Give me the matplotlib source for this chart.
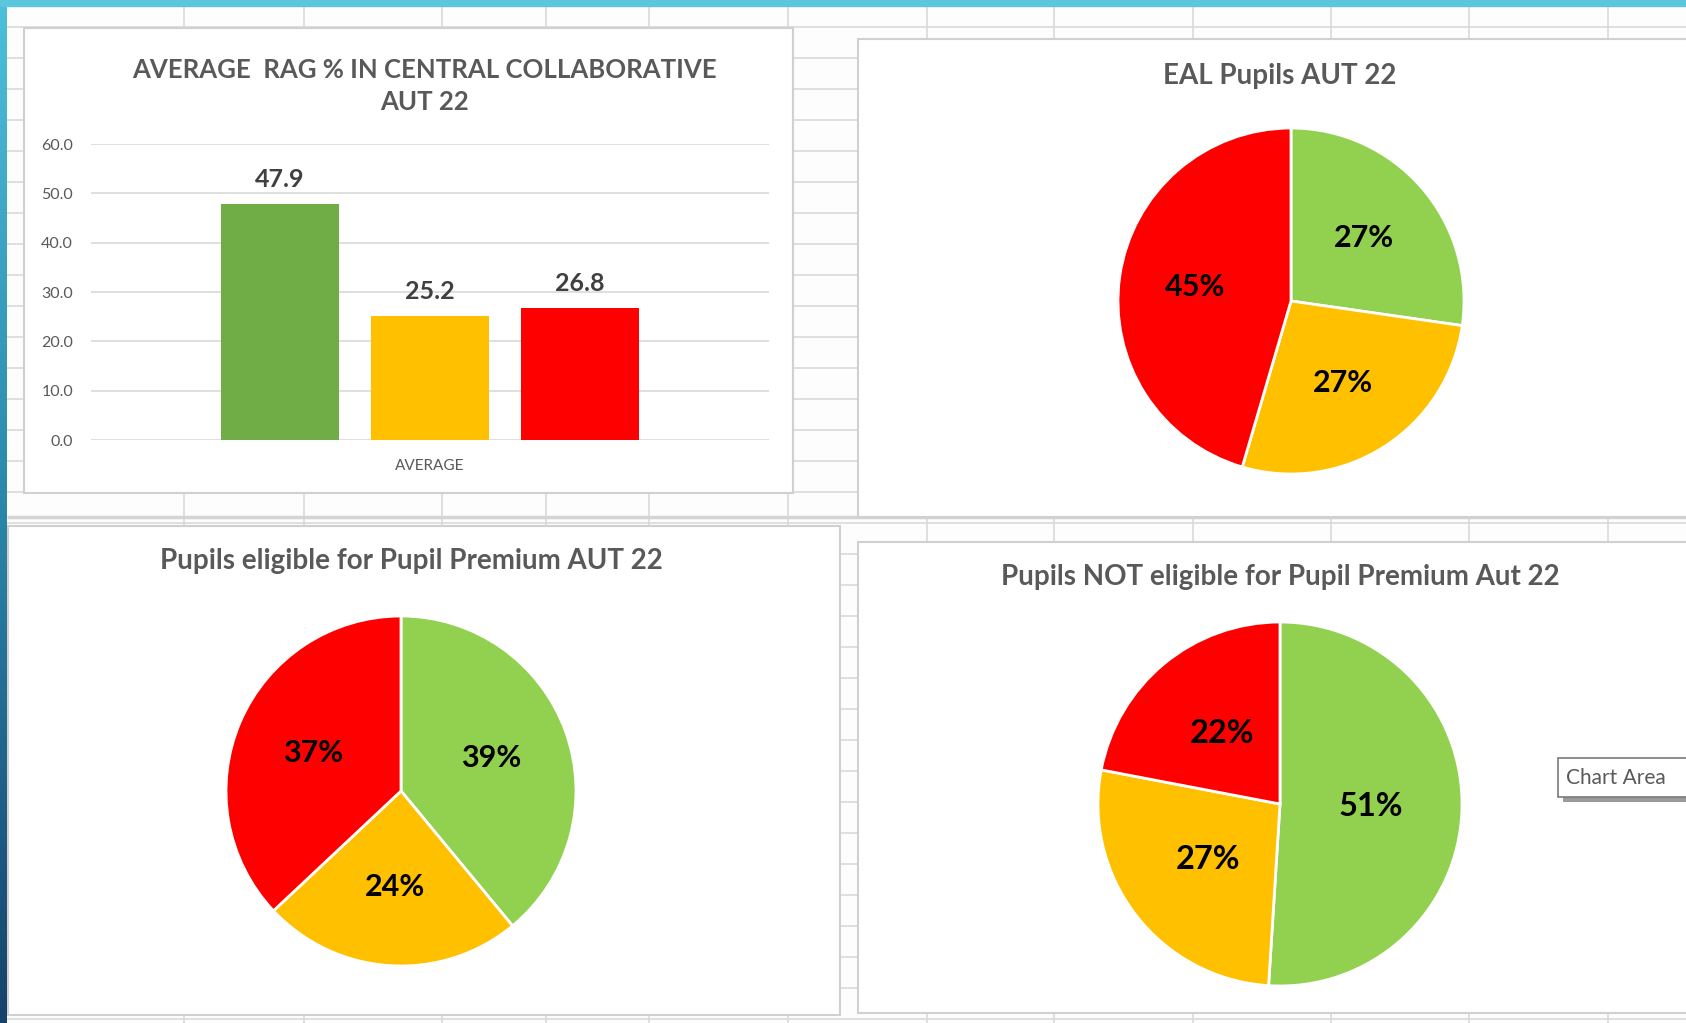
import numpy as np
import matplotlib
matplotlib.use("Agg")
import matplotlib.pyplot as plt
from matplotlib.patches import Rectangle

plt.rcParams['font.family'] = ['Lato', 'DejaVu Sans']

W, H = 1686, 1023

# ---- data ----
bar_title = "AVERAGE  RAG % IN CENTRAL COLLABORATIVE\nAUT 22"
bar_category = "AVERAGE"
bar_values = [47.9, 25.2, 26.8]          # green, amber, red
bar_colors = ["#70AD47", "#FFC000", "#FF0000"]
bar_yticks = [0, 10, 20, 30, 40, 50, 60]

pie_colors = ["#92D050", "#FFC000", "#FF0000"]   # green, amber, red
eal_title = "EAL Pupils AUT 22"
eal_values = [27, 27, 45]
pp_title = "Pupils eligible for Pupil Premium AUT 22"
pp_values = [39, 24, 37]
notpp_title = "Pupils NOT eligible for Pupil Premium Aut 22"
notpp_values = [51, 27, 22]

TXT = "#595959"
GRID = "#d9d9d9"

fig = plt.figure(figsize=(W / 100, H / 100), dpi=100)


def px_axes(x0, y0, x1, y1, z=2):
    # 像素坐标 -> figure 坐标
    return fig.add_axes([x0 / W, 1 - y1 / H, (x1 - x0) / W, (y1 - y0) / H], zorder=z)


# ---- 背景：表格网格 + 边框 ----
bg = fig.add_axes([0, 0, 1, 1], zorder=0)
bg.set_xlim(0, W)
bg.set_ylim(H, 0)
bg.axis("off")
bg.add_patch(Rectangle((0, 0), W, H, color="#fdfdfd", zorder=0))

rows = np.arange(27, H, 31)
cols = [184, 304, 442, 546, 649, 788, 927, 1054, 1193, 1331, 1469, 1608]
bg.hlines(rows, 7, W, color="#dadada", lw=1.2, zorder=1)
bg.vlines(cols, 0, H, color="#dadada", lw=1.2, zorder=1)
bg.hlines([517], 7, W, color="#d4d4d4", lw=2.5, zorder=1)

# 蓝色渐变边框
grad = np.linspace(0, 1, 256).reshape(-1, 1)
cmap = matplotlib.colors.LinearSegmentedColormap.from_list("b", ["#4cc0da", "#2a86a8", "#16426a"])
bg.imshow(grad, extent=(0, 7, H, 0), cmap=cmap, aspect="auto", zorder=3)
bg.add_patch(Rectangle((0, 0), W, 6, color="#5cc6dd", zorder=3))

panels = [(24, 28, 793, 493), (858, 39, 1700, 517), (8, 526, 840, 1015), (858, 542, 1700, 1013)]
for x0, y0, x1, y1 in panels:
    bg.add_patch(Rectangle((x0, y0), x1 - x0, y1 - y0, facecolor="white",
                           edgecolor="#d0d0d0", lw=1.5, zorder=2))

# ---- 柱状图 ----
ax = px_axes(91, 144, 769, 440)
ax.set_facecolor("none")
offs = [-0.221, 0, 0.221]
bars = ax.bar(offs, bar_values, width=0.174, color=bar_colors, zorder=3)
ax.bar_label(bars, labels=[f"{v:.1f}" for v in bar_values], padding=9,
             fontsize=18, fontweight="bold", color="#404040")
ax.set_xlim(-0.5, 0.5)
ax.set_ylim(0, 60)
ax.set_yticks(bar_yticks)
ax.set_yticklabels([f"{t:.1f}" for t in bar_yticks])
ax.set_xticks([0])
ax.set_xticklabels([bar_category])
ax.tick_params(axis="y", length=0, pad=13, labelsize=11.5, labelcolor=TXT)
ax.tick_params(axis="x", length=0, pad=14, labelsize=11, labelcolor=TXT)
ax.grid(axis="y", color=GRID, lw=1.2, zorder=0)
for s in ax.spines.values():
    s.set_visible(False)
bg.text(424, 86, bar_title, ha="center", va="center", fontsize=18.5,
        fontweight="bold", color=TXT, linespacing=1.35, zorder=4)


# ---- 饼图 ----
def draw_pie(cx, cy, r, values, title, tx, ty, ldist, fs):
    a = px_axes(cx - 1.25 * r, cy - 1.25 * r, cx + 1.25 * r, cy + 1.25 * r)
    wedges, texts = a.pie(values, colors=pie_colors, startangle=90, counterclock=False,
                          labels=[f"{v:.0f}%" for v in values], labeldistance=ldist,
                          wedgeprops=dict(edgecolor="white", linewidth=2))
    for t in texts:
        t.set_ha("center")
        t.set_va("center")
        t.set_fontsize(fs)
        t.set_fontweight("bold")
        t.set_color("black")
    bg.text(tx, ty, title, ha="center", va="center", fontsize=20,
            fontweight="bold", color=TXT, zorder=4)


draw_pie(1291, 301, 173, eal_values, eal_title, 1280, 76, 0.56, 22)
draw_pie(401, 791, 175, pp_values, pp_title, 411, 561, 0.55, 22)
draw_pie(1280, 804, 182, notpp_values, notpp_title, 1280, 577, 0.5, 23.5)

# ---- "Chart Area" 提示框 ----
bg.add_patch(Rectangle((1563, 763), 140, 39, facecolor="#9a9a9a", lw=0, zorder=5))
bg.add_patch(Rectangle((1558, 758), 140, 39, facecolor="white", edgecolor="#7a7a7a",
                       lw=1.2, zorder=6))
bg.text(1566, 778, "Chart Area", ha="left", va="center", fontsize=15,
        color="#5a5a5a", zorder=7)

fig.savefig("out.png", dpi=100)
